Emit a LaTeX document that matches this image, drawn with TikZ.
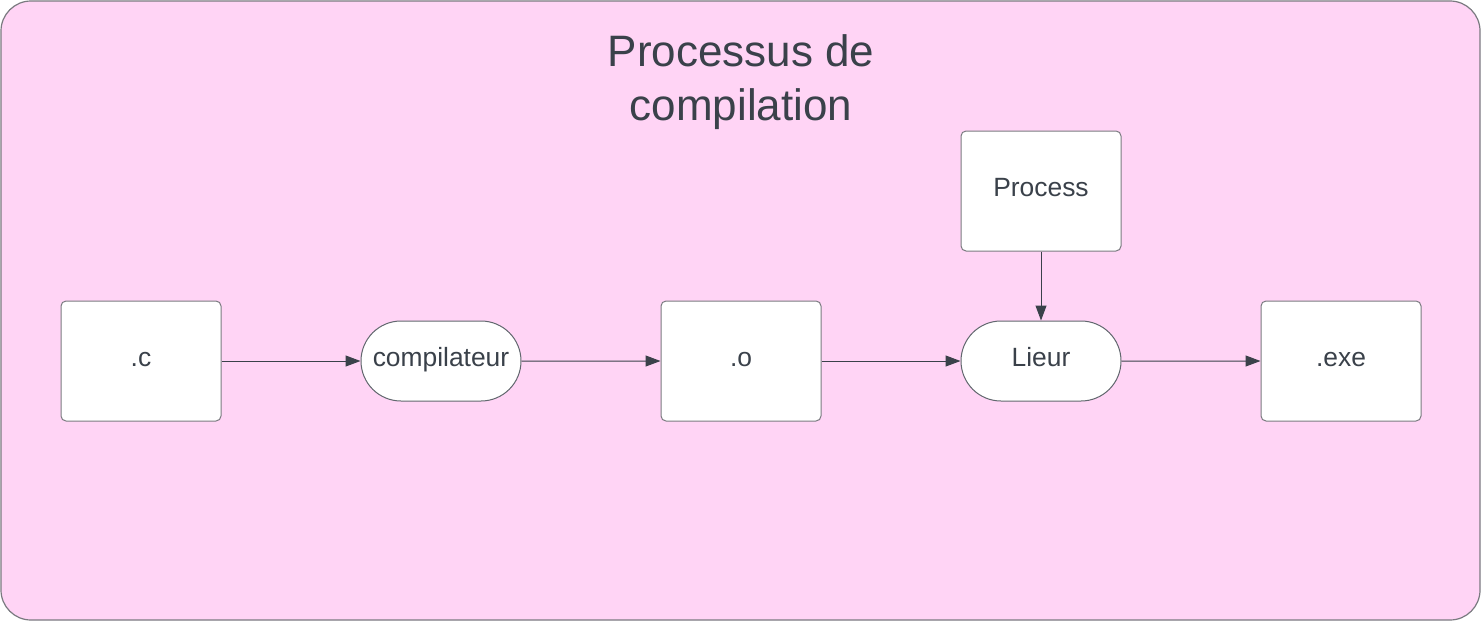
\documentclass[tikz,border=0pt]{standalone}
\usepackage{fontspec}
\setmainfont{Liberation Sans}
\usetikzlibrary{arrows.meta,shapes.misc}
\definecolor{bgpink}{HTML}{FFD4F5}
\definecolor{txt}{HTML}{3A414A}
\definecolor{edge}{HTML}{7A7A80}
\begin{document}
\begin{tikzpicture}[x=0.5pt,y=-0.5pt,
  nodetext/.style={text=txt,font=\fontsize{13.2}{16}\selectfont,text height=0.75em,text depth=0.25em},
  filebox/.style={nodetext,draw=edge,fill=white,line width=0.5pt,rounded corners=2.5pt,
    minimum width=80pt,minimum height=60pt,inner sep=0pt},
  procpill/.style={nodetext,draw=txt!80,fill=white,line width=0.5pt,rounded rectangle,
    minimum width=80pt,minimum height=40pt,inner sep=0pt},
  flow/.style={draw=txt,line width=0.5pt,-{Triangle[length=7.5pt,width=5.5pt]}}]
\useasboundingbox (0,0) rectangle (1481,621);
\draw[draw=edge,fill=bgpink,line width=0.6pt,rounded corners=15pt] (1,1) rectangle (1480,620);
\node[text=txt,align=center,font=\fontsize{22}{27}\selectfont] (title) at (741,82) {Processus de\\compilation};
\node[filebox] (c) at (141,361) {.c};
\node[procpill] (comp) at (441,361) {compilateur};
\node[filebox] (o) at (741,361) {.o};
\node[procpill] (lieur) at (1041,361) {Lieur};
\node[filebox] (exe) at (1341,361) {.exe};
\node[filebox] (proc) at (1041,191) {Process};
\draw[flow] (c) -- (comp);
\draw[flow] (comp) -- (o);
\draw[flow] (o) -- (lieur);
\draw[flow] (lieur) -- (exe);
\draw[flow] (proc) -- (lieur);
\end{tikzpicture}
\end{document}
